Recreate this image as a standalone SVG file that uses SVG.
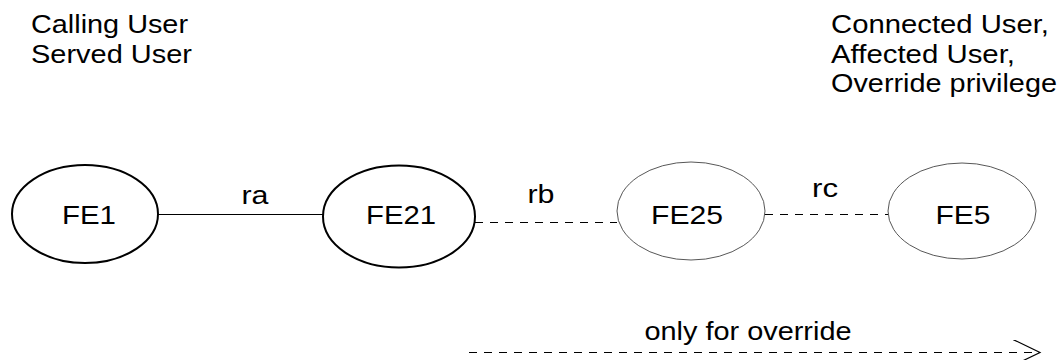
<svg xmlns="http://www.w3.org/2000/svg" width="1064" height="360" viewBox="0 0 1064 360">
<style>
text{font-family:"Liberation Sans",Arial,sans-serif;font-size:25px;fill:#000}
.strong{fill:none;stroke:#000;stroke-width:2}
.weak{fill:none;stroke:#444;stroke-width:0.9}
.solid{stroke:#000;stroke-width:1;fill:none}
.dash{stroke:#000;stroke-width:1;fill:none;stroke-dasharray:8 7}
.lbl{text-anchor:middle}
</style>
<defs>
<marker id="open" markerWidth="30" markerHeight="30" refX="27" refY="13" orient="auto" markerUnits="userSpaceOnUse">
<path d="M0,0 L27,13 L0,26" fill="none" stroke="#000" stroke-width="1.2"/>
</marker>
</defs>
<g id="roles-left">
<text x="31" y="33" textLength="157" lengthAdjust="spacingAndGlyphs">Calling User</text>
<text x="31" y="63" textLength="161" lengthAdjust="spacingAndGlyphs">Served User</text>
</g>
<g id="roles-right">
<text x="831" y="33" textLength="218" lengthAdjust="spacingAndGlyphs">Connected User,</text>
<text x="831" y="63" textLength="184" lengthAdjust="spacingAndGlyphs">Affected User,</text>
<text x="831" y="92" textLength="226" lengthAdjust="spacingAndGlyphs">Override privilege</text>
</g>
<g id="connectors">
<line class="solid" x1="158" y1="214.5" x2="323" y2="214.5"/>
<text class="lbl" x="255" y="204" textLength="27" lengthAdjust="spacingAndGlyphs">ra</text>
<line class="dash" x1="475" y1="222.5" x2="617" y2="222.5"/>
<text class="lbl" x="541" y="203" textLength="27" lengthAdjust="spacingAndGlyphs">rb</text>
<line class="dash" x1="765" y1="214.5" x2="888" y2="214.5"/>
<text class="lbl" x="825" y="197" textLength="26" lengthAdjust="spacingAndGlyphs">rc</text>
<line class="dash" x1="469" y1="352.5" x2="1040" y2="352.5" marker-end="url(#open)"/>
<text class="lbl" x="748" y="340" textLength="207" lengthAdjust="spacingAndGlyphs">only for override</text>
</g>
<g id="FE1">
<ellipse class="strong" cx="85" cy="214" rx="73" ry="49"/>
<text class="lbl" x="89" y="224" textLength="54" lengthAdjust="spacingAndGlyphs">FE1</text>
</g>
<g id="FE21">
<ellipse class="strong" cx="399" cy="216.5" rx="76" ry="51"/>
<text class="lbl" x="401" y="224" textLength="70" lengthAdjust="spacingAndGlyphs">FE21</text>
</g>
<g id="FE25">
<ellipse class="weak" cx="691" cy="211" rx="74" ry="49"/>
<text class="lbl" x="687" y="224" textLength="72" lengthAdjust="spacingAndGlyphs">FE25</text>
</g>
<g id="FE5">
<ellipse class="weak" cx="962" cy="211" rx="74" ry="48"/>
<text class="lbl" x="963" y="224" textLength="55" lengthAdjust="spacingAndGlyphs">FE5</text>
</g>
</svg>
